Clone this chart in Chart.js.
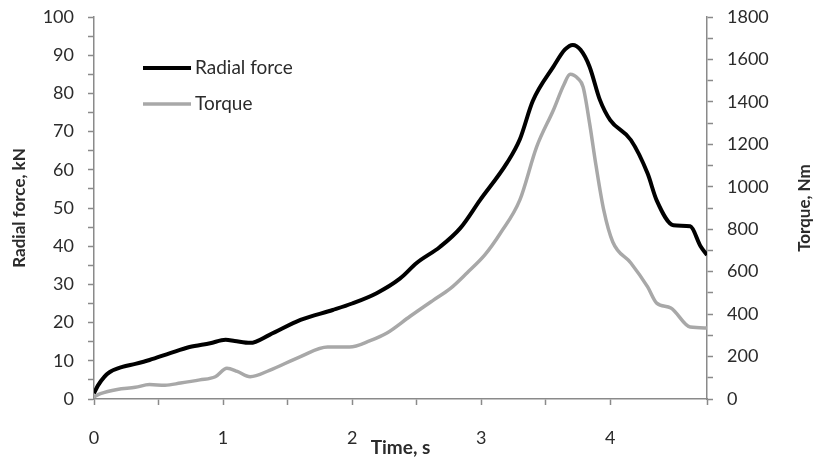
<!DOCTYPE html>
<html>
<head>
<meta charset="utf-8">
<script src="https://cdn.jsdelivr.net/npm/chart.js@4/dist/chart.umd.min.js"></script>
<style>
  html, body { margin: 0; padding: 0; background: #fff; }
  #wrap { width: 816px; height: 459px; }
</style>
</head>
<body>
<div id="wrap"><canvas id="forceChart"></canvas></div>
<script>
// Radial force curve (time in s, force in kN)
const radialTime = [0, 0.03, 0.08, 0.12, 0.22, 0.32, 0.43, 0.59, 0.74, 0.90, 1.02, 1.09, 1.21, 1.36, 1.60, 1.85, 2.00, 2.19, 2.37, 2.50, 2.68, 2.84, 2.99, 3.20, 3.30, 3.40, 3.56, 3.65, 3.71, 3.77, 3.84, 3.92, 4.00, 4.16, 4.29, 4.36, 4.49, 4.62, 4.70, 4.75];
const radialForce = [1.5, 3.5, 5.8, 7.0, 8.4, 9.2, 10.2, 12.0, 13.6, 14.6, 15.5, 15.2, 14.7, 16.8, 20.7, 23.3, 25.0, 27.7, 31.5, 35.6, 39.8, 44.8, 52, 61.8, 68, 78, 87, 91.5, 92.7, 91.4, 87, 78.3, 73, 67.8, 59, 52, 45.5, 45.2, 40, 37.7];

// Torque curve (time in s, torque in Nm)
const torqueTime = [0, 0.05, 0.18, 0.32, 0.43, 0.55, 0.67, 0.82, 0.94, 1.03, 1.11, 1.21, 1.36, 1.60, 1.81, 1.98, 2.14, 2.27, 2.45, 2.63, 2.76, 2.89, 3.03, 3.15, 3.30, 3.43, 3.56, 3.64, 3.69, 3.75, 3.79, 3.84, 3.89, 3.95, 4.02, 4.16, 4.29, 4.36, 4.47, 4.62, 4.75];
const torque = [10, 25, 45, 55, 68, 65, 75, 90, 105, 145, 130, 105, 135, 200, 245, 245, 275, 311, 390, 466, 520, 594, 680, 782, 938, 1188, 1362, 1480, 1530, 1510, 1470, 1300, 1100, 890, 740, 641, 528, 452, 429, 339, 335];

const seriesNames = ["Radial force", "Torque"];
const leftTitle = "Radial force, kN";
const rightTitle = "Torque, Nm";
const bottomTitle = "Time, s";

const FONT = "Lato, 'Open Sans', sans-serif";
const AXIS_GREY = "#8a8a8a";
const TEXT = "#2b2b2b";

function toPoints(xs, ys) {
  return xs.map((x, i) => ({ x: x, y: ys[i] }));
}

// Legend drawn inside the plot area, top left
const innerLegend = {
  id: "innerLegend",
  afterDraw(chart) {
    const ctx = chart.ctx;
    const rows = [68, 104];
    ctx.save();
    chart.data.datasets.forEach((ds, i) => {
      const y = rows[i];
      ctx.strokeStyle = ds.borderColor;
      ctx.lineWidth = ds.borderWidth;
      ctx.beginPath();
      ctx.moveTo(143, y);
      ctx.lineTo(191, y);
      ctx.stroke();
      ctx.fillStyle = TEXT;
      ctx.font = "19px " + FONT;
      ctx.textBaseline = "middle";
      ctx.textAlign = "left";
      ctx.fillText(ds.label, 195, y);
    });
    ctx.restore();
  }
};

// Right axis title reads bottom-to-top like the left one
const rightAxisTitle = {
  id: "rightAxisTitle",
  afterDraw(chart) {
    const ctx = chart.ctx;
    const area = chart.chartArea;
    ctx.save();
    ctx.translate(805, (area.top + area.bottom) / 2);
    ctx.rotate(-Math.PI / 2);
    ctx.fillStyle = TEXT;
    ctx.font = "bold 17px " + FONT;
    ctx.textAlign = "center";
    ctx.textBaseline = "middle";
    ctx.fillText(rightTitle, 0, 0);
    ctx.restore();
  }
};

const tickGrid = {
  drawOnChartArea: false,
  drawTicks: true,
  tickLength: 6,
  tickColor: AXIS_GREY,
  tickWidth: 1.5
};

function fixWidth(w) {
  return (scale) => {
    scale.width = w;
    scale.paddingTop = 0;
    scale.paddingBottom = 0;
  };
}

new Chart(document.getElementById("forceChart"), {
  type: "line",
  data: {
    datasets: [
      {
        label: seriesNames[0],
        data: toPoints(radialTime, radialForce),
        borderColor: "#000000",
        borderWidth: 4,
        pointRadius: 0,
        cubicInterpolationMode: "monotone",
        yAxisID: "y"
      },
      {
        label: seriesNames[1],
        data: toPoints(torqueTime, torque),
        borderColor: "#a8a8a8",
        borderWidth: 3.5,
        pointRadius: 0,
        cubicInterpolationMode: "monotone",
        yAxisID: "y2"
      }
    ]
  },
  options: {
    responsive: true,
    maintainAspectRatio: false,
    animation: false,
    layout: { padding: { top: 17, left: 0, right: 0, bottom: 0 } },
    plugins: {
      legend: { display: false },
      tooltip: { enabled: false }
    },
    scales: {
      x: {
        type: "linear",
        min: 0,
        max: 4.75,
        grid: tickGrid,
        border: { color: AXIS_GREY, width: 1.5 },
        ticks: {
          stepSize: 0.5,
          padding: 22,
          maxRotation: 0,
          autoSkip: false,
          color: TEXT,
          font: { family: FONT, size: 18 },
          callback: (v) => (Number.isInteger(v) ? v : "")
        },
        title: {
          display: true,
          text: bottomTitle,
          color: TEXT,
          font: { family: FONT, size: 19, weight: "bold" },
          padding: { top: -20, bottom: 0 }
        },
        afterFit: (scale) => {
          scale.height = 60;
          scale.paddingLeft = 0;
          scale.paddingRight = 0;
        }
      },
      y: {
        position: "left",
        min: 0,
        max: 100,
        grid: tickGrid,
        border: { color: AXIS_GREY, width: 1.5 },
        ticks: {
          stepSize: 5,
          padding: 14,
          autoSkip: false,
          color: TEXT,
          font: { family: FONT, size: 18 },
          callback: (v) => (v % 10 === 0 ? v : "")
        },
        title: {
          display: true,
          text: leftTitle,
          color: TEXT,
          font: { family: FONT, size: 17, weight: "bold" },
          padding: { top: 9, bottom: 0 }
        },
        afterFit: fixWidth(94)
      },
      y2: {
        position: "right",
        min: 0,
        max: 1800,
        grid: tickGrid,
        border: { color: AXIS_GREY, width: 1.5 },
        ticks: {
          stepSize: 100,
          padding: 14,
          autoSkip: false,
          color: TEXT,
          font: { family: FONT, size: 18 },
          callback: (v) => (v % 200 === 0 ? v : "")
        },
        afterFit: fixWidth(109)
      }
    }
  },
  plugins: [innerLegend, rightAxisTitle]
});
</script>
</body>
</html>
